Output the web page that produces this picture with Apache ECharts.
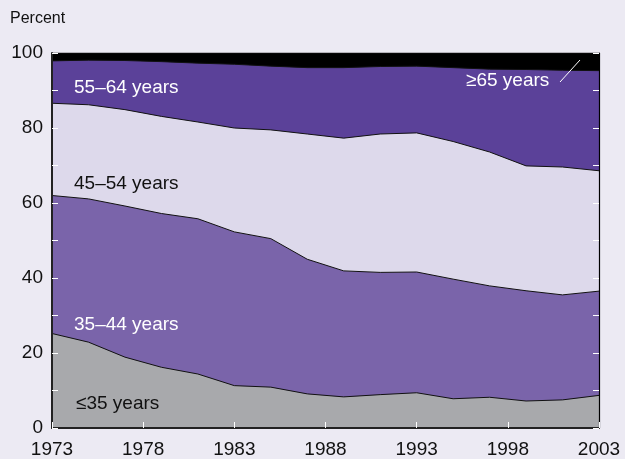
<!DOCTYPE html>
<html>
<head>
<meta charset="utf-8">
<script src="https://cdn.jsdelivr.net/npm/echarts@6/dist/echarts.min.js"></script>
<style>
html,body{margin:0;padding:0;background:#ECEAF3;}
#c{width:625px;height:459px;}
</style>
</head>
<body>
<div id="c"></div>
<script>
const years = [1973,1975,1977,1979,1981,1983,1985,1987,1989,1991,1993,1995,1997,1999,2001,2003];
const under35 = [25.2,22.9,18.9,16.2,14.4,11.3,10.9,9.1,8.3,8.9,9.4,7.8,8.2,7.2,7.5,8.7];
const age35to44 = [36.8,38.2,40.3,41.0,41.4,41.0,39.6,35.9,33.6,32.6,32.2,31.9,29.7,29.4,28.0,27.8];
const age45to54 = [24.6,25.1,25.7,25.9,25.8,27.7,29.0,33.4,35.4,36.9,37.1,36.7,35.7,33.3,34.1,32.1];
const age55to64 = [11.3,11.9,13.1,14.6,15.7,17.0,17.0,17.7,18.8,18.0,17.8,19.7,22.1,25.7,25.8,26.7];
const over65 = [2.1,1.9,2.0,2.3,2.7,3.0,3.5,3.9,3.9,3.6,3.5,3.9,4.3,4.4,4.6,4.7];
const seriesNames = ['≤35 years','35–44 years','45–54 years','55–64 years','≥65 years'];
const xTicks = [1973,1978,1983,1988,1993,1998,2003];
const yTicks = [0,20,40,60,80,100];

const FONT = 'Liberation Sans, Arial, Helvetica, sans-serif';
const colors = ['#A8A9AC','#7A64AA','#DDD9EB','#5B4199','#000000'];
const allData = [under35, age35to44, age45to54, age55to64, over65];

// cumulative stack built from the series arrays
const cumulative = [];
allData.forEach((arr, i) => {
  cumulative.push(arr.map((v, j) => (i ? cumulative[i-1][j] : 0) + v));
});

const chart = echarts.init(document.getElementById('c'), null, {renderer:'canvas'});
const series = [];
for (let i = allData.length - 1; i >= 0; i--) {
  series.push({
    name: seriesNames[i],
    type: 'line',
    data: years.map((y, j) => [y, +cumulative[i][j].toFixed(2)]),
    showSymbol: false,
    symbol: 'none',
    smooth: false,
    lineStyle: {color: '#111', width: 1},
    areaStyle: {color: colors[i], opacity: 1, origin: 'start'},
    itemStyle: {color: colors[i]},
    z: 2,
    silent: true
  });
}

const option = {
  backgroundColor: '#ECEAF3',
  animation: false,
  grid: {left: 52, right: 26, top: 53, bottom: 29.5, containLabel: false},
  xAxis: {
    type: 'value', min: 1973, max: 2003, interval: 5,
    axisLine: {show: true, lineStyle: {color: '#222', width: 2}},
    axisTick: {show: true, inside: true, length: 6, lineStyle: {color: '#fff', width: 1}},
    axisLabel: {color: '#111', fontSize: 19, fontFamily: FONT, margin: 12,
      formatter: v => xTicks.includes(v) ? String(v) : ''},
    splitLine: {show: false},
    z: 5
  },
  yAxis: [{
    type: 'value', min: 0, max: 100, interval: 10, position: 'left',
    axisLine: {show: true, lineStyle: {color: '#222', width: 2}},
    axisTick: {show: true, inside: true, length: 6, lineStyle: {color: '#fff', width: 1}},
    axisLabel: {color: '#111', fontSize: 19, fontFamily: FONT, margin: 9,
      formatter: v => yTicks.includes(v) ? String(v) : ''},
    splitLine: {show: false},
    z: 5
  },{
    type: 'value', min: 0, max: 100, interval: 10, position: 'right',
    axisLine: {show: true, lineStyle: {color: '#000', width: 1.2}},
    axisTick: {show: true, inside: true, length: 6, lineStyle: {color: '#fff', width: 1}},
    axisLabel: {show: false},
    splitLine: {show: false},
    z: 5
  }],
  series: series,
  graphic: [
    {type: 'text', left: 10, top: 11, style: {text: 'Percent', font: '16px ' + FONT, fill: '#111'}},
    {type: 'text', x: 74, y: 88, z: 10, style: {text: '55–64 years', font: '19px ' + FONT, fill: '#fff', verticalAlign: 'middle'}},
    {type: 'text', x: 74, y: 184, z: 10, style: {text: '45–54 years', font: '19px ' + FONT, fill: '#111', verticalAlign: 'middle'}},
    {type: 'text', x: 74, y: 325, z: 10, style: {text: '35–44 years', font: '19px ' + FONT, fill: '#fff', verticalAlign: 'middle'}},
    {type: 'text', x: 76, y: 404, z: 10, style: {text: '≤35 years', font: '19px ' + FONT, fill: '#111', verticalAlign: 'middle'}},
    {type: 'text', x: 466, y: 81, z: 10, style: {text: '≥65 years', font: '19px ' + FONT, fill: '#fff', verticalAlign: 'middle'}},
    {type: 'line', z: 10, shape: {x1: 560, y1: 82, x2: 580, y2: 60}, style: {stroke: '#fff', lineWidth: 1}}
  ]
};
chart.setOption(option);
</script>
</body>
</html>
